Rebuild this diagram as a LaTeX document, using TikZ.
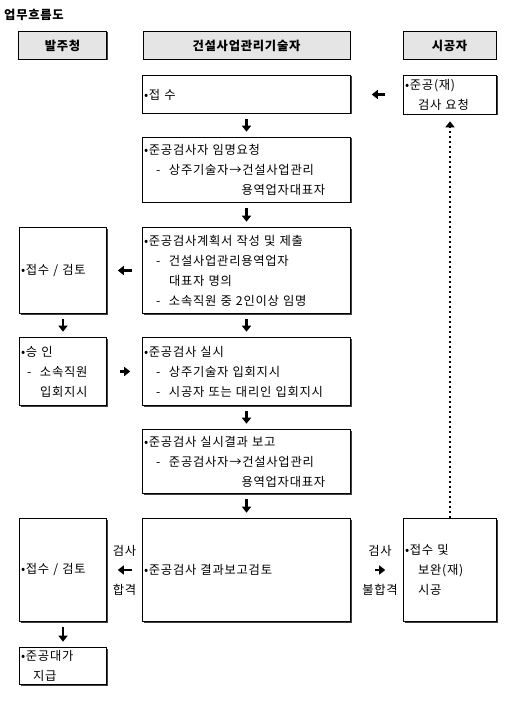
\documentclass[tikz,border=0pt]{standalone}
\usepackage{fontspec}
\setmainfont{Noto Sans CJK KR}[WordSpace=2.5,LetterSpace=6]
\usetikzlibrary{positioning,arrows.meta,shadows}
\newcommand{\itemdash}{\makebox[13pt][l]{-}}
\tikzset{
    stage/.style={
    rectangle,draw=black,fill=white,line width=0.6pt,inner xsep=1.5pt,inner ysep=0pt,
    align=left,font=\fontsize{12.3}{20}\selectfont,
    drop shadow={shadow xshift=1pt,shadow yshift=-1pt,fill=black!75,opacity=1}
    },
    cbox/.style={stage,text width=205pt,minimum height=#1},
    lbox/.style={stage,text width=84pt,minimum height=#1},
    rbox/.style={stage,text width=90pt,minimum height=#1},
    head/.style={
    rectangle,draw=black,fill=gray!20,line width=0.6pt,minimum width=#1,minimum height=28pt,
    font=\fontsize{12.3}{14}\selectfont\bfseries,
    drop shadow={shadow xshift=1pt,shadow yshift=-1pt,fill=black!75,opacity=1}
    },
    flow/.style={
    -{Triangle[length=6pt,width=9pt]},line width=2.2pt,shorten <=5.5pt,shorten >=5.5pt
    },
    back/.style={
    -{Triangle[length=6pt,width=9pt]},line width=2pt,dash pattern=on 2pt off 3pt,shorten >=7pt
    },
    lab/.style={font=\fontsize{12.3}{14}\selectfont,inner sep=0pt},
}
\begin{document}
\begin{tikzpicture}[x=1pt,y=-1pt,on grid]
   \useasboundingbox (0,0) rectangle (516,703);
   \node[anchor=west,inner sep=0pt,font=\fontsize{12.3}{14}\selectfont\bfseries] (title) at (4,15) {업무흐름도};

   % headers
   \node[head=207pt] (Hc) at (246.5,45.5) {건설사업관리기술자};
   \node[head=88pt,left=184pt of Hc] (Hb) {발주청};
   \node[head=93pt,right=203pt of Hc] (Hs) {시공자};

   % centre column
   \node[cbox=38pt,below=49pt of Hc] (C1) {•접 수};
   \node[cbox=65pt,below=75.5pt of C1] (C2) {•준공검사자 임명요청\\
      \hspace*{12pt}\itemdash 상주기술자→건설사업관리\\
      \hspace*{12pt}\hphantom{\itemdash 상주기술자→}용역업자대표자};
   \node[cbox=86pt,below=100.5pt of C2] (C3) {•준공검사계획서 작성 및 제출\\
      \hspace*{12pt}\itemdash 건설사업관리용역업자\\
      \hspace*{25pt}대표자 명의\\
      \hspace*{12pt}\itemdash 소속직원 중 2인이상 임명};
   \node[cbox=68pt,below=101pt of C3] (C4) {•준공검사 실시\\
      \hspace*{12pt}\itemdash 상주기술자 입회지시\\
      \hspace*{12pt}\itemdash 시공자 또는 대리인 입회지시};
   \node[cbox=64pt,below=90pt of C4] (C5) {•준공검사 실시결과 보고\\
      \hspace*{12pt}\itemdash 준공검사자→건설사업관리\\
      \hspace*{12pt}\hphantom{\itemdash 준공검사자→}용역업자대표자};
   \node[cbox=103pt,below=108.5pt of C5] (C6) {•준공검사 결과보고검토};

   % left column
   \node[lbox=86pt,left=183.5pt of C3] (L1) {•접수 / 검토};
   \node[lbox=68pt,left=183.5pt of C4] (L2) {•승 인\\
      \hspace*{6pt}\itemdash 소속직원\\
      \hspace*{19pt}입회지시};
   \node[lbox=103pt,left=183.5pt of C6] (L3) {•접수 / 검토};
   \node[lbox=37pt,below=96pt of L3] (L4) {•준공대가\\
      \hspace*{12pt}지급};

   % right column
   \node[rbox=39pt,right=203.5pt of C1] (R1) {•준공(재)\\
      \hspace*{13pt}검사 요청};
   \node[rbox=103pt,right=203.5pt of C6] (R2) {•접수 및\\
      \hspace*{13pt}보완(재)\\
      \hspace*{13pt}시공};

  \path[flow]
    (C1) edge (C2)
    (C2) edge (C3)
    (C3) edge (C4)
    (C4) edge (C5)
    (C5) edge (C6)
    (L1) edge (L2)
    (L3) edge (L4)
    (C3) edge[shorten <=10pt,shorten >=11pt] (L1)
    (L2) edge[shorten <=13pt,shorten >=12pt] (C4)
    (R1) edge[shorten <=18pt,shorten >=21pt] (C1)
    (C6) edge[shorten <=10pt,shorten >=11pt]
         node[lab,yshift=19pt] {검사} node[lab,yshift=-20pt] {합격} (L3)
    (C6) edge[shorten <=24pt,shorten >=18pt]
         node[lab,xshift=3pt,yshift=19pt] {검사} node[lab,xshift=3pt,yshift=-20pt] {불합격} (R2);
  \draw[back] (R2) -- (R1);
\end{tikzpicture}
\end{document}
